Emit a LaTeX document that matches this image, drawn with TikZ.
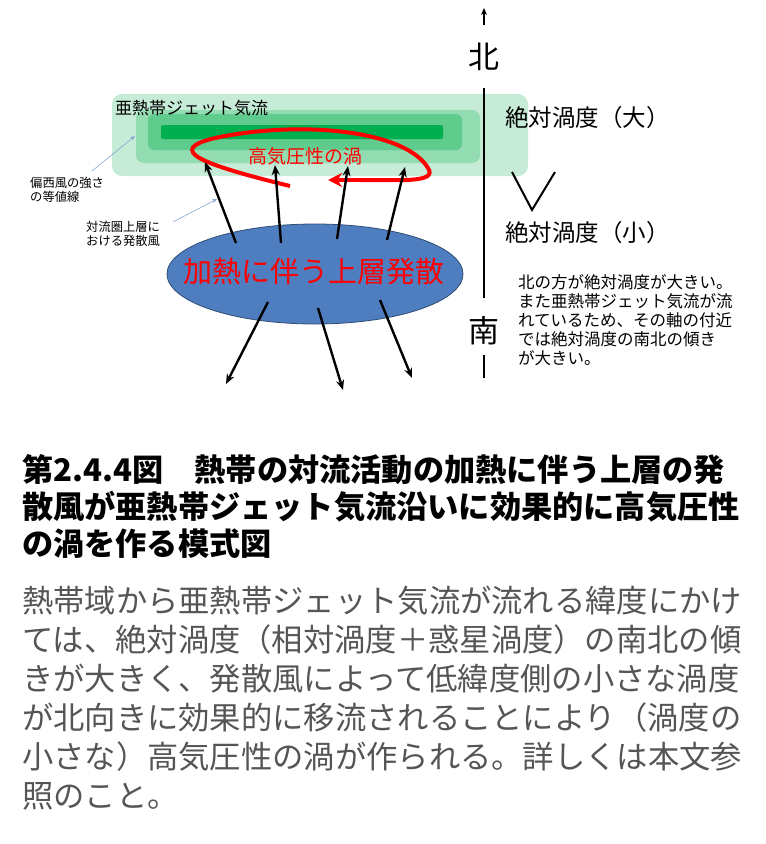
\documentclass[tikz,border=0pt]{standalone}
\usepackage{fontspec}
\newfontfamily\cjk{Noto Sans CJK JP}
\usetikzlibrary{arrows.meta,shapes.geometric}
\definecolor{g1}{HTML}{C6EBD6}
\definecolor{g2}{HTML}{93DBB0}
\definecolor{g3}{HTML}{5FCB8C}
\definecolor{g4}{HTML}{00B050}
\definecolor{blu}{HTML}{4F7EC0}
\definecolor{bodyc}{HTML}{555555}
\tikzset{
  txt/.style={font=\cjk, inner sep=0pt, anchor=west},
  bk/.style={line width=2.4pt, -{Stealth[length=10pt,width=8pt]}},
  thin/.style={draw=blu!70, line width=0.6pt, -{Stealth[length=5pt,width=4pt]}},
  captxt/.style={font=\cjk\bfseries\fontsize{31.2}{33}\selectfont, inner sep=0pt, anchor=west},
  body/.style={font=\cjk\fontsize{31.3}{33}\selectfont, text=bodyc, inner sep=0pt, anchor=west},
}
\begin{document}
\begin{tikzpicture}[x=1pt,y=-1pt]
\useasboundingbox (0,0) rectangle (766,844);
% green bands
\fill[g1, rounded corners=10pt] (112,94) rectangle (528,176);
\fill[g2, rounded corners=8pt] (136,110) rectangle (480,163);
\fill[g3, rounded corners=6pt] (148,114) rectangle (462,150);
\fill[g4, rounded corners=2pt] (161,125) rectangle (443,139);
\node[txt, font=\cjk\fontsize{17}{19}\selectfont] (jet) at (115,108) {亜熱帯ジェット気流};
\node[font=\cjk\fontsize{19}{21}\selectfont, text=red, inner sep=0pt] (hp) at (305,156) {高気圧性の渦};
% red loop
\coordinate (r0) at (290,186);
\coordinate (r1) at (328,180);
\draw[red, line width=4pt] (r0) .. controls (200,164) and (165,150) .. (215,138)
  .. controls (300,120) and (405,130) .. (428,168)
  .. controls (438,183) and (400,180) .. (360,180);
\draw[red, line width=4pt, -{Stealth[length=14pt,width=14pt]}] (362,180) -- (r1);
% blue ellipse
\node[ellipse, draw=blu!60!black, fill=blu, minimum width=296pt, minimum height=100pt, inner sep=0pt, line width=0.8pt] (el) at (315,274) {};
\node[font=\cjk\fontsize{29}{32}\selectfont, text=red, inner sep=0pt] (heat) at (314,272) {加熱に伴う上層発散};
% arrows up
\coordinate (u1a) at (236,243); \coordinate (u1b) at (205,162);
\coordinate (u2a) at (281,243); \coordinate (u2b) at (275,165);
\coordinate (u3a) at (337,239); \coordinate (u3b) at (348,166);
\coordinate (u4a) at (387,240); \coordinate (u4b) at (405,167);
\draw[bk] (u1a) -- (u1b); \draw[bk] (u2a) -- (u2b);
\draw[bk] (u3a) -- (u3b); \draw[bk] (u4a) -- (u4b);
\coordinate (d1a) at (268,302); \coordinate (d1b) at (226,384);
\coordinate (d2a) at (318,308); \coordinate (d2b) at (343,390);
\coordinate (d3a) at (380,300); \coordinate (d3b) at (412,378);
\draw[bk] (d1a) -- (d1b); \draw[bk] (d2a) -- (d2b); \draw[bk] (d3a) -- (d3b);
% small labels
\node[txt, font=\cjk\fontsize{12.3}{14}\selectfont, align=left, anchor=north west] (iso) at (30,177) {偏西風の強さ\\の等値線};
\node[txt, font=\cjk\fontsize{12.3}{14}\selectfont, align=left, anchor=north west] (div) at (86,221) {対流圏上層に\\おける発散風};
\coordinate (t1a) at (92,171); \coordinate (t1b) at (135,136);
\coordinate (t2a) at (173,222); \coordinate (t2b) at (217,199);
\draw[thin] (t1a) -- (t1b); \draw[thin] (t2a) -- (t2b);
% axis
\coordinate (a0) at (484,25); \coordinate (a1) at (484,8);
\draw[line width=1.4pt, -{Stealth[length=7pt,width=6pt]}] (a0) -- (a1);
\node[font=\cjk\fontsize{31}{32}\selectfont, inner sep=0pt] (north) at (484,57) {北};
\node[font=\cjk\fontsize{31}{32}\selectfont, inner sep=0pt] (south) at (484,331) {南};
\coordinate (l0) at (484,88); \coordinate (l1) at (484,298);
\coordinate (l2) at (484,355); \coordinate (l3) at (484,378);
\draw[line width=2.2pt] (l0) -- (l1); \draw[line width=2.2pt] (l2) -- (l3);
\node[txt, font=\cjk\fontsize{23.5}{25}\selectfont] (big) at (505,118) {絶対渦度（大）};
\node[txt, font=\cjk\fontsize{23.5}{25}\selectfont] (small) at (505,233) {絶対渦度（小）};
\coordinate (v0) at (512,172); \coordinate (v1) at (532,210); \coordinate (v2) at (555,172);
\draw[line width=2pt] (v0) -- (v1) -- (v2);
\node[txt, font=\cjk\fontsize{16.5}{19}\selectfont, align=left, anchor=north west] (note) at (518,274) {北の方が絶対渦度が大きい。\\また亜熱帯ジェット気流が流\\れているため、その軸の付近\\では絶対渦度の南北の傾き\\が大きい。};
% caption
\node[captxt] (c1) at (22,470) {第2.4.4図　熱帯の対流活動の加熱に伴う上層の発};
\node[captxt] (c2) at (22,507) {散風が亜熱帯ジェット気流沿いに効果的に高気圧性};
\node[captxt] (c3) at (22,544) {の渦を作る模式図};
\node[body] (b1) at (22,601) {熱帯域から亜熱帯ジェット気流が流れる緯度にかけ};
\node[body] (b2) at (22,640) {ては、絶対渦度（相対渦度＋惑星渦度）の南北の傾};
\node[body] (b3) at (22,679) {きが大きく、発散風によって低緯度側の小さな渦度};
\node[body] (b4) at (22,718) {が北向きに効果的に移流されることにより（渦度の};
\node[body] (b5) at (22,757) {小さな）高気圧性の渦が作られる。詳しくは本文参};
\node[body] (b6) at (22,796) {照のこと。};
\end{tikzpicture}
\end{document}
